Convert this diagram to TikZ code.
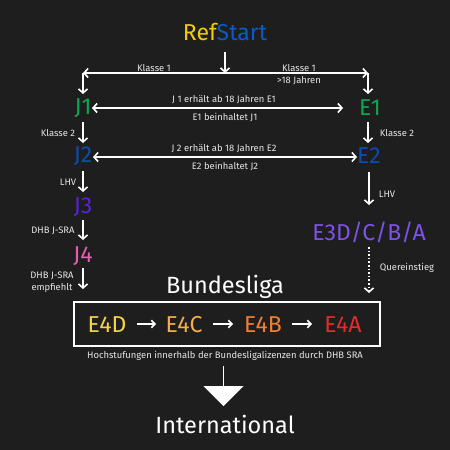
\documentclass[tikz,border=0pt]{standalone}
\usepackage{fontspec}
\setmainfont{Fira Sans}
\usetikzlibrary{arrows.meta,shapes.arrows}
\definecolor{bg}{HTML}{1E1E1E}
\definecolor{lbl}{HTML}{E6E6E6}
\definecolor{cyel}{HTML}{F2CC0C}
\definecolor{cblue}{HTML}{0A5BC8}
\definecolor{cgreen}{HTML}{0AA850}
\definecolor{cblue2}{HTML}{0A4DB0}
\definecolor{cpurp}{HTML}{5A22D8}
\definecolor{cpink}{HTML}{E85AAE}
\definecolor{cpurp2}{HTML}{7E52E6}
\definecolor{ed}{HTML}{F5D04A}
\definecolor{ec}{HTML}{F4AE48}
\definecolor{eb}{HTML}{F07E34}
\definecolor{ea}{HTML}{E8282A}
\tikzset{
  big/.style={inner sep=0pt, font=\fontsize{23}{27}\selectfont},
  mid/.style={inner sep=0pt, font=\fontsize{23}{27}\selectfont},
  lab/.style={inner sep=0pt, text=lbl, font=\fontsize{9.4}{11.5}\selectfont, align=center},
  arr/.style={draw=white, line width=1.6pt, -{Straight Barb[length=4pt,width=9pt,line width=1.6pt]}},
  darr/.style={draw=white, line width=1.6pt, {Straight Barb[length=4pt,width=9pt,line width=1.6pt]}-{Straight Barb[length=4pt,width=9pt,line width=1.6pt]}},
  dotarr/.style={arr, dotted},
  sarr/.style={draw=white, line width=1.6pt, -{Straight Barb[length=3.5pt,width=7.5pt,line width=1.6pt]}},
}
\begin{document}
\begin{tikzpicture}[x=1pt,y=-1pt]
\fill[bg] (0,0) rectangle (450,450);
\useasboundingbox (0,0) rectangle (450,450);

\node[big] (start) at (225,32) {\textcolor{cyel}{Ref}\textcolor{cblue}{Start}};
\coordinate (top) at (225,52);
\coordinate (mid) at (225,73);
\coordinate (cl) at (83,73);
\coordinate (cr) at (368,73);
\coordinate (j1t) at (83,94);
\coordinate (e1t) at (368,94);

\node[big, text=cgreen] (J1) at (83,108) {J1};
\node[big, text=cgreen] (E1) at (370,108) {E1};
\node[big, text=cblue2] (J2) at (83,156) {J2};
\node[big, text=cblue2] (E2) at (369,156) {E2};
\node[big, text=cpurp] (J3) at (83,207) {J3};
\node[big, text=cpink] (J4) at (83,256) {J4};
\node[big, text=cpurp2] (E3) at (369,232) {E3D/C/B/A};
\node[big, text=white, font=\fontsize{23.5}{28}\selectfont] (BL) at (225,287) {Bundesliga};

\node[draw=white, line width=1.5pt, minimum width=306pt, minimum height=44pt, inner sep=0pt] (box) at (227,324) {};
\node[mid, text=ed] (E4D) at (107,325) {E4D};
\node[mid, text=ec] (E4C) at (184,325) {E4C};
\node[mid, text=eb] (E4B) at (263,325) {E4B};
\node[mid, text=ea] (E4A) at (343,325) {E4A};

\node[lab] (cap) at (225,356) {Hochstufungen innerhalb der Bundesligalizenzen durch DHB SRA};
\node[single arrow, fill=white, draw=none, shape border rotate=270, minimum width=40pt, single arrow head extend=10pt, single arrow tip angle=90, minimum height=40pt, inner sep=0pt] (bigarr) at (223.5,386) {};
\node[big, text=white, font=\fontsize{23.5}{28}\selectfont] (INT) at (225,424) {International};

% connectors
\draw[arr] (top) -- (mid);
\draw[darr] (cl) -- (cr);
\draw[arr] (cl) -- (j1t);
\draw[arr] (cr) -- (e1t);
\node[lab] (k1l) at (154,68) {Klasse 1};
\node[lab] (k1r) at (299,68) {Klasse 1};
\node[lab] (k1r2) at (299,81) {>18 Jahren};

\draw[darr] (92,108) -- (343,108);
\node[lab] (l1a) at (224,100) {J 1 erhält ab 18 Jahren E1};
\node[lab] (l1b) at (225,117) {E1 beinhaltet J1};

\draw[darr] (93,157) -- (357,157);
\node[lab] (l2a) at (224,149) {J 2 erhält ab 18 Jahren E2};
\node[lab] (l2b) at (225,166) {E2 beinhaltet J2};

\draw[arr] (83,122) -- (83,143);
\node[lab] (k2l) at (58,133) {Klasse 2};
\draw[arr] (368,122) -- (368,143);
\node[lab] (k2r) at (397,133) {Klasse 2};

\draw[arr] (83,171) -- (83,192);
\node[lab] (lhvl) at (68,182) {LHV};
\draw[arr] (83,220) -- (83,240);
\node[lab] (dhb1) at (53,231) {DHB J-SRA};
\draw[arr] (83,268) -- (83,289);
\node[lab] (dhb2) at (52,282) {DHB J-SRA\\empfiehlt};

\draw[arr] (369,172) -- (369,205);
\node[lab] (lhvr) at (387,194) {LHV};
\draw[dotarr] (369,247) -- (369,293);
\node[lab] (que) at (407,268) {Quereinstieg};

\draw[sarr] (137,324) -- (156,324);
\draw[sarr] (213,324) -- (233,324);
\draw[sarr] (292,324) -- (312,324);
\end{tikzpicture}
\end{document}
